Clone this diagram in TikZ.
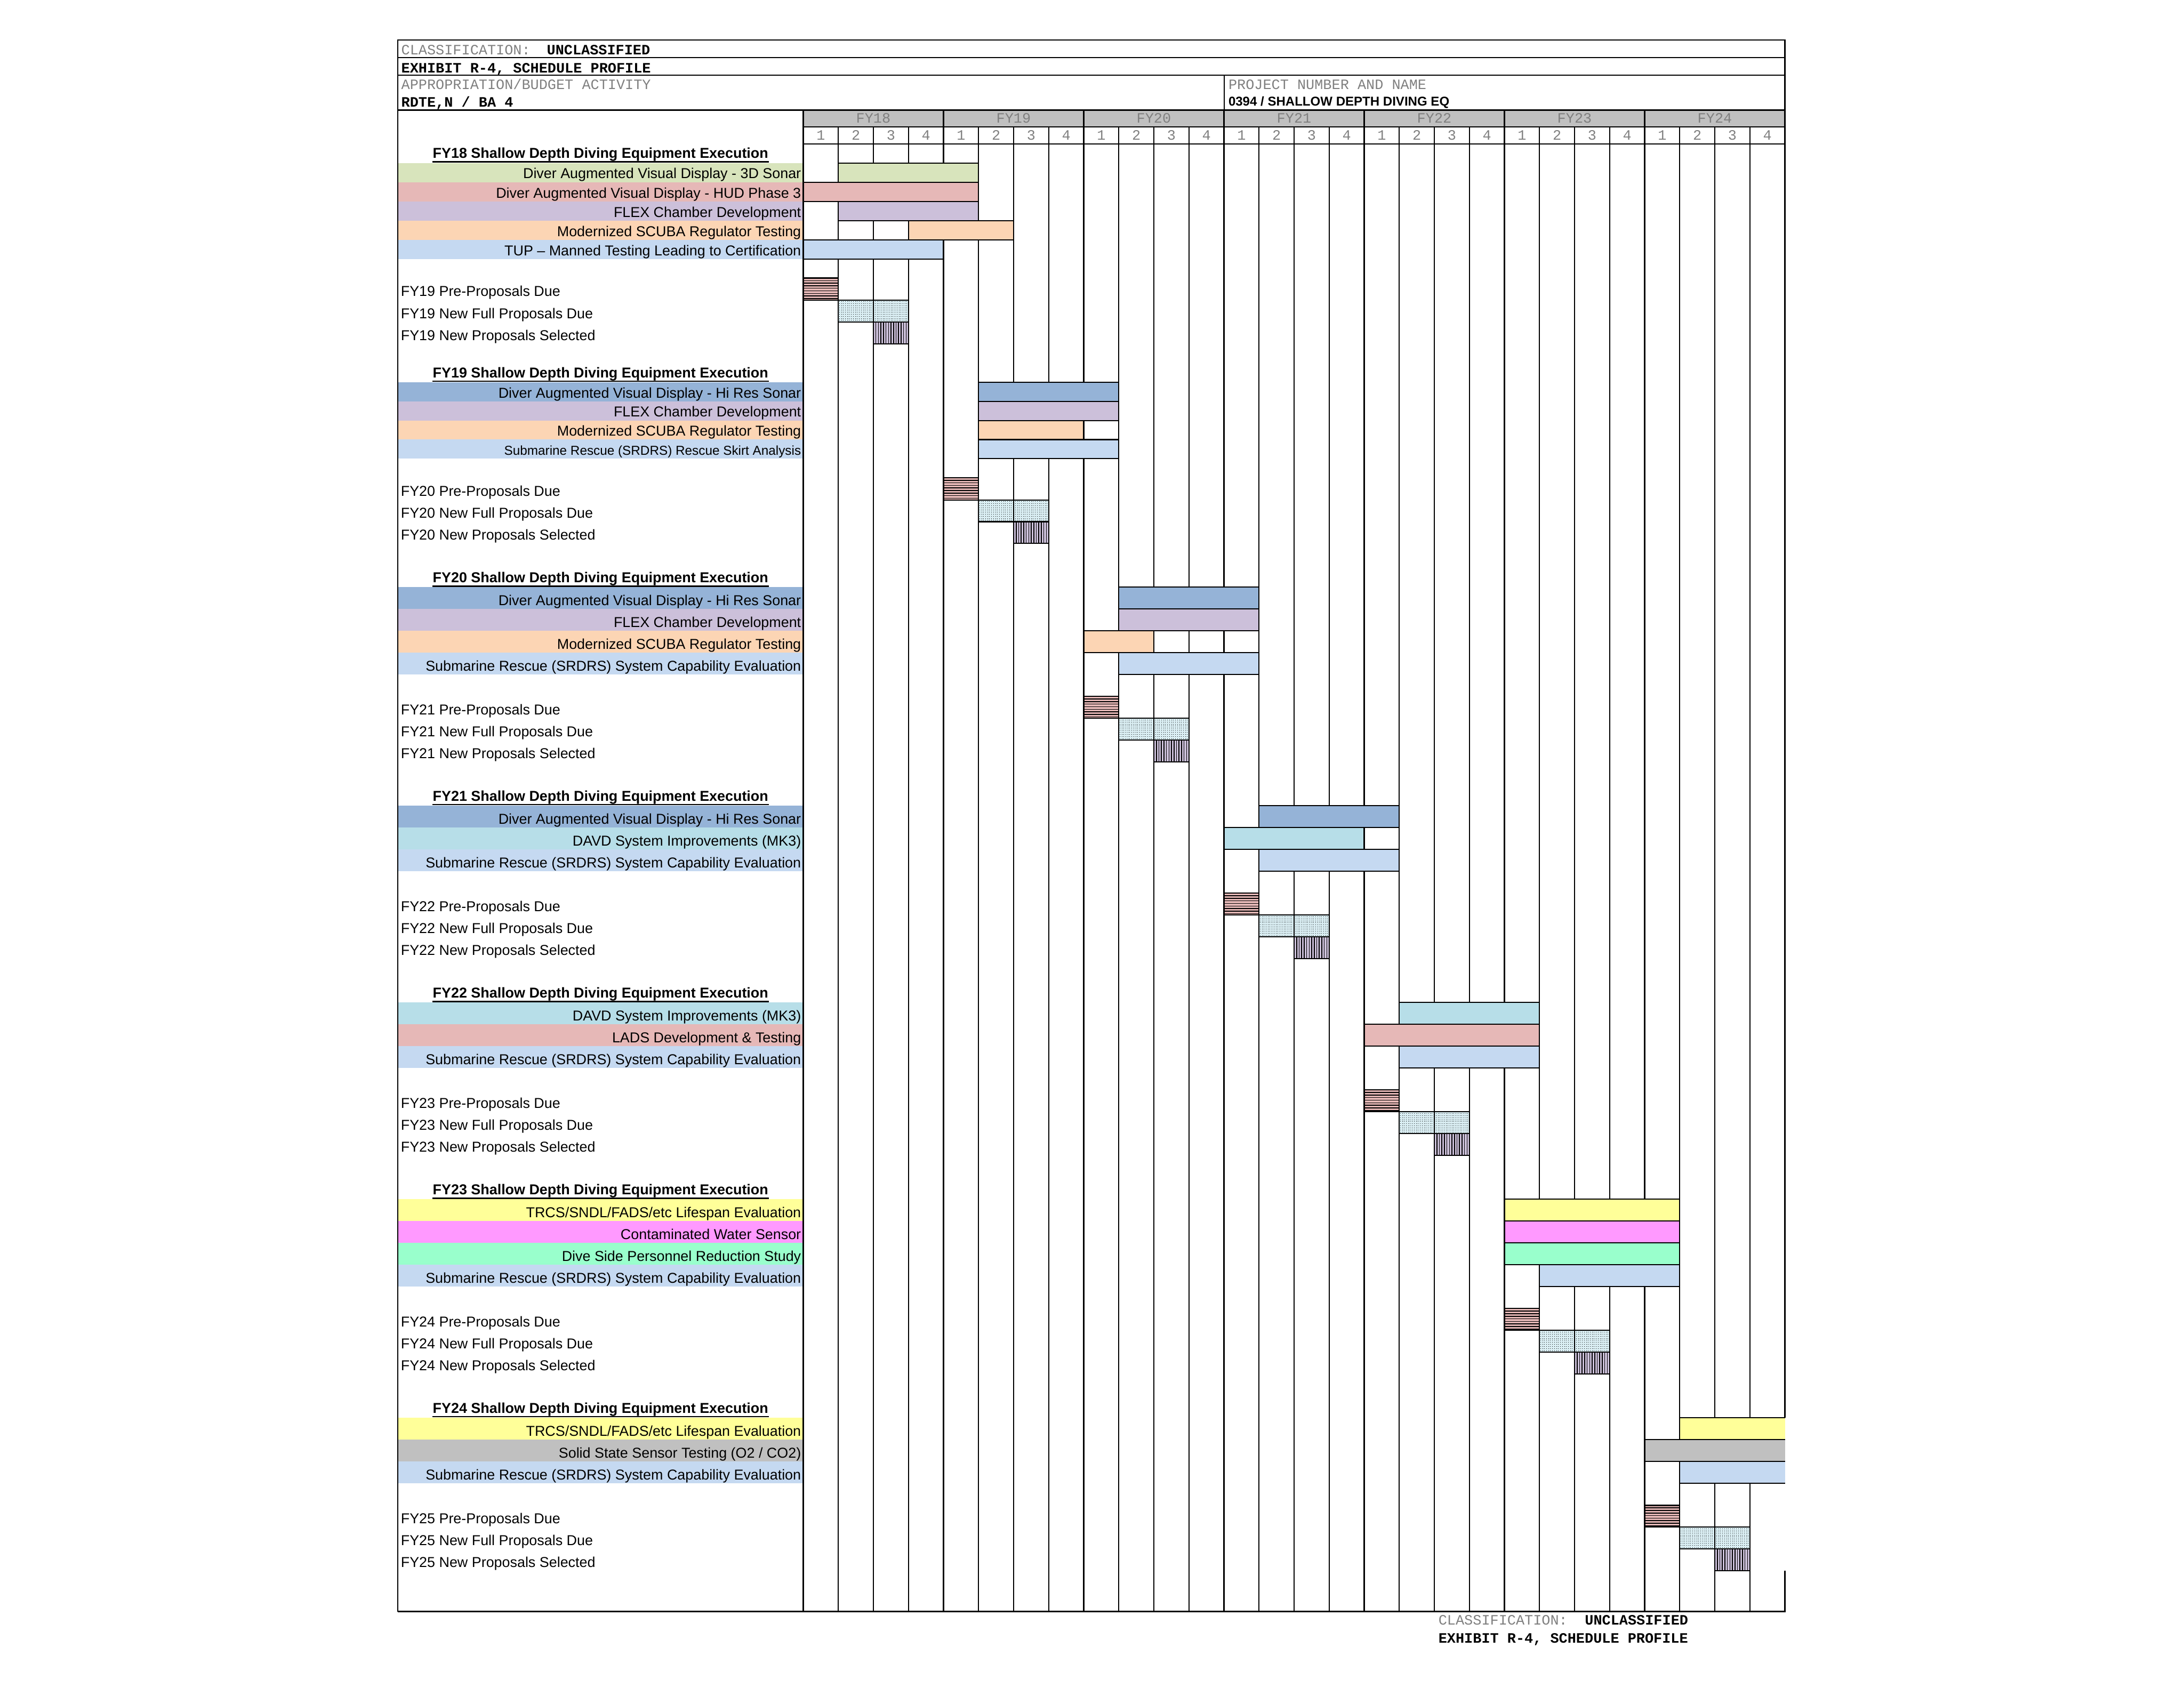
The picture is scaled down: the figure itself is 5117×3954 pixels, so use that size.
\documentclass[tikz,border=0pt]{standalone}
\usepackage{fontspec}
\setmainfont{Liberation Sans}
\newfontfamily\hdrfont{Liberation Mono}

\definecolor{sonar3d}{HTML}{D8E4BC}
\definecolor{hud}{HTML}{E6B8B7}
\definecolor{flex}{HTML}{CCC0DA}
\definecolor{scuba}{HTML}{FCD5B4}
\definecolor{srdrs}{HTML}{C5D9F1}
\definecolor{hires}{HTML}{95B3D7}
\definecolor{davd}{HTML}{B7DEE8}
\definecolor{trcs}{HTML}{FFFF99}
\definecolor{cws}{HTML}{FF99FF}
\definecolor{dive}{HTML}{99FFCC}
\definecolor{sss}{HTML}{C0C0C0}
\definecolor{fyhead}{HTML}{C0C0C0}
\definecolor{fullbg}{HTML}{DAEEF3}
\definecolor{hdrtext}{HTML}{808080}

% chart origin and quarter width (in page pixels)
\newcommand{\chartx}{1882}
\newcommand{\quarterw}{82.14}

\tikzset{
  ruling/.style={line width=0.45pt},
  hatchline/.style={line width=0.3pt},
  dotrow/.style={line width=0.14pt, dash pattern=on 0.14pt off 0.58pt},
  ulrule/.style={line width=0.5pt},
  tasklbl/.style={anchor=base east, inner sep=0pt, font=\fontsize{5.2}{6}\selectfont},
  mslbl/.style={anchor=base west, inner sep=0pt, font=\fontsize{5.2}{6}\selectfont},
  headlbl/.style={anchor=base, inner sep=0pt, font=\bfseries\fontsize{5.2}{6}\selectfont},
  projlbl/.style={anchor=base west, inner sep=0pt, font=\bfseries\fontsize{4.65}{5.5}\selectfont},
  hdrgray/.style={anchor=base west, inner sep=0pt, text=hdrtext, font=\hdrfont\fontsize{5.2}{6}\selectfont},
  hdrbold/.style={anchor=base west, inner sep=0pt, font=\hdrfont\bfseries\fontsize{5.2}{6}\selectfont},
  fylbl/.style={anchor=base, inner sep=0pt, text=hdrtext, font=\hdrfont\fontsize{5.2}{6}\selectfont},
  prefill/.style={fill=hud},
  fullfill/.style={fill=fullbg},
  selfill/.style={fill=flex}
}

% hatching of the milestone cells: {q1}{q2}{ytop}{ybot}
\newcommand{\hatchpre}[4]{\foreach \k in {1,...,8} {\draw[hatchline] ({\chartx+\quarterw*#1},{#3+6*\k}) -- ({\chartx+\quarterw*#2},{#3+6*\k});}}
\newcommand{\hatchfull}[4]{\foreach \k in {0,...,9} {\draw[dotrow] ({\chartx+\quarterw*#1+2},{#3+3.5+4.9*\k}) -- ({\chartx+\quarterw*#2},{#3+3.5+4.9*\k});}}
\newcommand{\hatchsel}[4]{\foreach \k in {1,...,13} {\draw[hatchline] ({\chartx+\quarterw*#1+5.9*\k},#3) -- ({\chartx+\quarterw*#1+5.9*\k},#4);}}

% task row: name, colour, label, first quarter, end quarter, ytop, ybot
\newcommand{\gtask}[7]{%
  \fill[#2] (932,#6) rectangle (1882,#7);
  \node[tasklbl] (#1) at (1878,{#7-8.5}) {#3};
  \fill[#2] ({\chartx+\quarterw*#4},#6) rectangle ({\chartx+\quarterw*#5},#7);
  \draw[ruling] ({\chartx+\quarterw*#4},#7) -- ({\chartx+\quarterw*#4},#6) -- ({\chartx+\quarterw*#5},#6);
  \draw[ruling] ({\chartx+\quarterw*#4},#7) -- ({\chartx+\quarterw*#5},#7);
  \ifnum#5<28 \draw[ruling] ({\chartx+\quarterw*#5},#6) -- ({\chartx+\quarterw*#5},#7);\fi
}

% milestone row: name, kind (pre/full/sel), label, first quarter, end quarter, ytop, ybot
\newcommand{\milestone}[7]{%
  \fill[#2fill] ({\chartx+\quarterw*#4},#6) rectangle ({\chartx+\quarterw*#5},#7);
  \csname hatch#2\endcsname{#4}{#5}{#6}{#7}%
  \foreach \q in {#4,...,#5} {\draw[ruling] ({\chartx+\quarterw*\q},#6) -- ({\chartx+\quarterw*\q},#7);}
  \draw[ruling] ({\chartx+\quarterw*#4},#6) -- ({\chartx+\quarterw*#5},#6);
  \draw[ruling] ({\chartx+\quarterw*#4},#7) -- ({\chartx+\quarterw*#5},#7);
  \node[mslbl] (#1) at (938,{#7-8.5}) {#3};
}

% underlined block heading: name, year, baseline
\newcommand{\blockhead}[3]{%
  \node[headlbl] (#1) at (1407,#3) {FY#2 Shallow Depth Diving Equipment Execution};
  \draw[ulrule] ([yshift=-1.3pt]#1.base west) -- ([yshift=-1.3pt]#1.base east);
}

\begin{document}
\begin{tikzpicture}[x=0.15478pt, y=-0.15478pt]
  \useasboundingbox (0,0) rectangle (5117,3954);

  % fiscal year band
  \fill[fyhead] (\chartx,258) rectangle (4182,297);

  % quarter columns
  \foreach \q in {1,...,27} {
    \draw[ruling] ({\chartx+\quarterw*\q},297) -- ({\chartx+\quarterw*\q},3776);
  }

  % FY18 block
  \gtask{t18a}{sonar3d}{Diver Augmented Visual Display - 3D Sonar}{1}{5}{382}{427}
  \gtask{t18b}{hud}{Diver Augmented Visual Display - HUD Phase 3}{0}{5}{427}{472}
  \gtask{t18c}{flex}{FLEX Chamber Development}{1}{5}{472}{517}
  \gtask{t18d}{scuba}{Modernized SCUBA Regulator Testing}{3}{6}{517}{562}
  \gtask{t18e}{srdrs}{TUP – Manned Testing Leading to Certification}{0}{4}{562}{607}
  \milestone{m19a}{pre}{FY19 Pre-Proposals Due}{0}{1}{651.5}{703}
  \milestone{m19b}{full}{FY19 New Full Proposals Due}{1}{3}{703}{754.5}
  \milestone{m19c}{sel}{FY19 New Proposals Selected}{2}{3}{754.5}{806}

  % FY19 block
  \gtask{t19a}{hires}{Diver Augmented Visual Display - Hi Res Sonar}{5}{9}{896}{940.7}
  \gtask{t19b}{flex}{FLEX Chamber Development}{5}{9}{940.7}{985.3}
  \gtask{t19c}{scuba}{Modernized SCUBA Regulator Testing}{5}{8}{985.3}{1030}
  \gtask{t19d}{srdrs}{{\fontsize{4.7}{5}\selectfont Submarine Rescue (SRDRS) Rescue Skirt Analysis}}{5}{9}{1030}{1074.6}
  \milestone{m20a}{pre}{FY20 Pre-Proposals Due}{4}{5}{1119.3}{1171.5}
  \milestone{m20b}{full}{FY20 New Full Proposals Due}{5}{7}{1171.5}{1222.4}
  \milestone{m20c}{sel}{FY20 New Proposals Selected}{6}{7}{1222.4}{1273.3}

  % FY20 block
  \gtask{t20a}{hires}{Diver Augmented Visual Display - Hi Res Sonar}{9}{13}{1375.8}{1427.0}
  \gtask{t20b}{flex}{FLEX Chamber Development}{9}{13}{1427.0}{1478.3}
  \gtask{t20c}{scuba}{Modernized SCUBA Regulator Testing}{8}{10}{1478.3}{1529.5}
  \gtask{t20d}{srdrs}{Submarine Rescue (SRDRS) System Capability Evaluation}{9}{13}{1529.5}{1580.7}
  \milestone{m21a}{pre}{FY21 Pre-Proposals Due}{8}{9}{1631.9}{1683.1}
  \milestone{m21b}{full}{FY21 New Full Proposals Due}{9}{11}{1683.1}{1734.4}
  \milestone{m21c}{sel}{FY21 New Proposals Selected}{10}{11}{1734.4}{1785.6}

  % FY21 block
  \gtask{t21a}{hires}{Diver Augmented Visual Display - Hi Res Sonar}{13}{17}{1888.0}{1939.2}
  \gtask{t21b}{davd}{DAVD System Improvements (MK3)}{12}{16}{1939.2}{1990.5}
  \gtask{t21c}{srdrs}{Submarine Rescue (SRDRS) System Capability Evaluation}{13}{17}{1990.5}{2041.7}
  \milestone{m22a}{pre}{FY22 Pre-Proposals Due}{12}{13}{2092.9}{2144.1}
  \milestone{m22b}{full}{FY22 New Full Proposals Due}{13}{15}{2144.1}{2195.3}
  \milestone{m22c}{sel}{FY22 New Proposals Selected}{14}{15}{2195.3}{2246.6}

  % FY22 block
  \gtask{t22a}{davd}{DAVD System Improvements (MK3)}{17}{21}{2349.0}{2400.2}
  \gtask{t22b}{hud}{LADS Development \& Testing}{16}{21}{2400.2}{2451.4}
  \gtask{t22c}{srdrs}{Submarine Rescue (SRDRS) System Capability Evaluation}{17}{21}{2451.4}{2502.7}
  \milestone{m23a}{pre}{FY23 Pre-Proposals Due}{16}{17}{2553.9}{2605.1}
  \milestone{m23b}{full}{FY23 New Full Proposals Due}{17}{19}{2605.1}{2656.3}
  \milestone{m23c}{sel}{FY23 New Proposals Selected}{18}{19}{2656.3}{2707.5}

  % FY23 block
  \gtask{t23a}{trcs}{TRCS/SNDL/FADS/etc Lifespan Evaluation}{20}{25}{2810.0}{2861.2}
  \gtask{t23b}{cws}{Contaminated Water Sensor}{20}{25}{2861.2}{2912.4}
  \gtask{t23c}{dive}{Dive Side Personnel Reduction Study}{20}{25}{2912.4}{2963.6}
  \gtask{t23d}{srdrs}{Submarine Rescue (SRDRS) System Capability Evaluation}{21}{25}{2963.6}{3014.9}
  \milestone{m24a}{pre}{FY24 Pre-Proposals Due}{20}{21}{3066.1}{3117.3}
  \milestone{m24b}{full}{FY24 New Full Proposals Due}{21}{23}{3117.3}{3168.5}
  \milestone{m24c}{sel}{FY24 New Proposals Selected}{22}{23}{3168.5}{3219.7}

  % FY24 block
  \gtask{t24a}{trcs}{TRCS/SNDL/FADS/etc Lifespan Evaluation}{25}{28}{3322.2}{3373.4}
  \gtask{t24b}{sss}{Solid State Sensor Testing (O2 / CO2)}{24}{28}{3373.4}{3424.6}
  \gtask{t24c}{srdrs}{Submarine Rescue (SRDRS) System Capability Evaluation}{25}{28}{3424.6}{3475.8}
  \milestone{m25a}{pre}{FY25 Pre-Proposals Due}{24}{25}{3527.1}{3578.3}
  \milestone{m25b}{full}{FY25 New Full Proposals Due}{25}{27}{3578.3}{3629.5}
  \milestone{m25c}{sel}{FY25 New Proposals Selected}{26}{27}{3629.5}{3680.7}

  % block headings
  \blockhead{h18}{18}{371}
  \blockhead{h19}{19}{885}
  \blockhead{h20}{20}{1365}
  \blockhead{h21}{21}{1877}
  \blockhead{h22}{22}{2338}
  \blockhead{h23}{23}{2799}
  \blockhead{h24}{24}{3311}

  % outer frame (right side open next to the FY25 rows)
  \draw[ruling] (932,3776) -- (932,94) -- (4182,94) -- (4182,3322.2);
  \draw[ruling] (4182,3680.7) -- (4182,3776) -- (932,3776);

  % header rules
  \draw[ruling] (932,135) -- (4182,135);
  \draw[ruling] (932,176) -- (4182,176);
  \draw[ruling] (932,258) -- (4182,258);
  \draw[ruling] (\chartx,297) -- (4182,297);
  \draw[ruling] (\chartx,337) -- (4182,337);
  \draw[ruling] (2868,176) -- (2868,258);
  \draw[ruling] (\chartx,258) -- (\chartx,3776);
  \foreach \y in {1,...,6} {
    \draw[ruling] ({\chartx+4*\quarterw*\y},258) -- ({\chartx+4*\quarterw*\y},297);
  }

  % header text
  \node[hdrgray] (clsA) at (939,128) {CLASSIFICATION:};
  \node[hdrbold] (clsB) at (1280,128) {UNCLASSIFIED};
  \node[hdrbold] (exh) at (939,170.5) {EXHIBIT R-4, SCHEDULE PROFILE};
  \node[hdrgray] (appr) at (939,209) {APPROPRIATION/BUDGET ACTIVITY};
  \node[hdrbold] (ba) at (939,250) {RDTE,N / BA 4};
  \node[hdrgray] (proj) at (2877,209) {PROJECT NUMBER AND NAME};
  \node[projlbl] (pname) at (2877,248) {0394 / SHALLOW DEPTH DIVING EQ};

  % years and quarters
  \foreach \y [count=\i from 0] in {18,...,24} {
    \node[fylbl] (fy\y) at ({\chartx+\quarterw*(4*\i+2)},288) {FY\y};
  }
  \foreach \q in {0,...,27} {
    \pgfmathtruncatemacro\qn{mod(\q,4)+1}
    \node[fylbl] (q\q) at ({\chartx+\quarterw*(\q+0.5)},328) {\qn};
  }

  % footer
  \node[hdrgray] (fcls) at (3369,3807) {CLASSIFICATION:};
  \node[hdrbold] (funcl) at (3712,3807) {UNCLASSIFIED};
  \node[hdrbold] (fexh) at (3369,3850) {EXHIBIT R-4, SCHEDULE PROFILE};
\end{tikzpicture}
\end{document}
